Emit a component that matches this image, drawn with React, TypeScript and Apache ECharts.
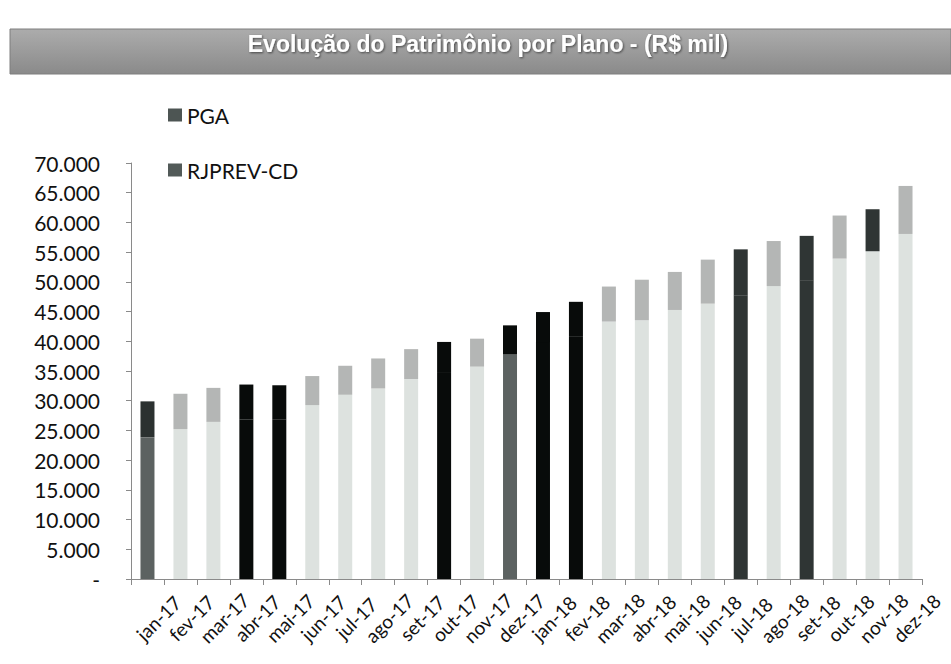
import { useEffect, useRef } from "react";
import * as echarts from "echarts";

const months = [
  "jan-17", "fev-17", "mar-17", "abr-17", "mai-17", "jun-17", "jul-17", "ago-17",
  "set-17", "out-17", "nov-17", "dez-17", "jan-18", "fev-18", "mar-18", "abr-18",
  "mai-18", "jun-18", "jul-18", "ago-18", "set-18", "out-18", "nov-18", "dez-18",
];

// RJPREV-CD (lower segment), R$ mil
const rjprevCd = [
  23830, 25230, 26440, 26830, 26880, 29270, 31000, 32060,
  33630, 34670, 35730, 37800, 39870, 40750, 43320, 43540,
  45270, 46330, 47730, 49290, 50170, 53920, 55150, 58060,
];

// PGA (upper segment), R$ mil
const pga = [
  6060, 5940, 5720, 5890, 5720, 4880, 4880, 5050,
  5050, 5220, 4710, 4880, 5050, 5890, 5890, 6820,
  6400, 7410, 7740, 7580, 7570, 7240, 7070, 8080,
];

const yMax = 70000;
const yStep = 5000;

// tones of the scanned print (style only)
const LIGHT = "#dde2df";
const MID = "#b4b6b5";
const BLACK = "#080b0a";
const DARK = "#2f3534";
const SLATE = "#5c6261";
const CHAR = "#2b3130";

const bottomTone: Record<string, string> = {
  "jan-17": SLATE, "abr-17": BLACK, "mai-17": BLACK, "out-17": BLACK,
  "dez-17": SLATE, "jan-18": BLACK, "fev-18": BLACK, "jul-18": DARK, "set-18": DARK,
};
const topTone: Record<string, string> = {
  "jan-17": CHAR, "abr-17": BLACK, "mai-17": BLACK, "out-17": BLACK,
  "dez-17": BLACK, "jan-18": BLACK, "fev-18": BLACK, "jul-18": DARK, "set-18": DARK,
  "nov-18": DARK,
};

const FONT = "Lato, 'Open Sans', sans-serif";

function fmt(v: number): string {
  if (v === 0) return "-";
  return String(v).replace(/\B(?=(\d{3})+(?!\d))/g, ".");
}

export default function App() {
  const ref = useRef<HTMLDivElement>(null);

  useEffect(() => {
    if (!ref.current) return;
    const chart = echarts.init(ref.current, undefined, { renderer: "svg" });
    chart.setOption({
      animation: false,
      backgroundColor: "#ffffff",
      graphic: [
        {
          type: "rect",
          shape: { x: 10, y: 29, width: 941, height: 45 },
          style: {
            fill: new echarts.graphic.LinearGradient(0, 0, 0, 1, [
              { offset: 0, color: "#acacac" },
              { offset: 0.5, color: "#9b9b9b" },
              { offset: 1, color: "#8a8a8a" },
            ]),
            stroke: "#7f7f7f",
            lineWidth: 1,
          },
          z: 1,
        },
        {
          type: "text",
          x: 488,
          y: 44,
          style: {
            text: "Evolução do Patrimônio por Plano - (R$ mil)",
            fill: "#ffffff",
            font: "bold 23px 'Liberation Sans', Arial, sans-serif",
            align: "center",
            verticalAlign: "middle",
            textShadowColor: "rgba(0,0,0,0.55)",
            textShadowBlur: 2,
            textShadowOffsetX: 1,
            textShadowOffsetY: 1,
          },
          z: 2,
        },
      ],
      legend: {
        orient: "vertical",
        left: 163,
        top: 98,
        itemGap: 31,
        itemWidth: 14,
        itemHeight: 13,
        icon: "rect",
        textStyle: { fontFamily: FONT, fontSize: 21, color: "#111111", lineHeight: 24 },
        data: [
          { name: "PGA", itemStyle: { color: "#4d5553" } },
          { name: "RJPREV-CD", itemStyle: { color: "#525a58" } },
        ],
      },
      grid: {
        left: 131,
        right: 29,
        top: 163,
        bottom: 85,
        containLabel: false,
        outerBoundsMode: "none",
      },
      xAxis: {
        type: "category",
        data: months,
        boundaryGap: true,
        axisLine: { lineStyle: { color: "#8a8a8a", width: 1 } },
        axisTick: { show: true, length: 6, lineStyle: { color: "#8a8a8a" } },
        axisLabel: {
          interval: 0,
          rotate: 45,
          align: "center",
          verticalAlign: "middle",
          padding: [0, 0, 0, 31],
          margin: 50,
          fontFamily: FONT,
          fontSize: 19,
          color: "#111111",
        },
      },
      yAxis: {
        type: "value",
        min: 0,
        max: yMax,
        interval: yStep,
        splitLine: { show: false },
        axisLine: { show: true, lineStyle: { color: "#8a8a8a", width: 1 } },
        axisTick: { show: true, inside: false, length: 5, lineStyle: { color: "#8a8a8a" } },
        axisLabel: {
          margin: 31,
          fontFamily: FONT,
          fontSize: 21,
          color: "#111111",
          formatter: (v: number) => fmt(v),
        },
      },
      series: [
        {
          name: "RJPREV-CD",
          type: "bar",
          stack: "total",
          barWidth: 14,
          itemStyle: { color: LIGHT },
          data: rjprevCd.map((v, i) => ({
            value: v,
            itemStyle: { color: bottomTone[months[i]] || LIGHT },
          })),
        },
        {
          name: "PGA",
          type: "bar",
          stack: "total",
          barWidth: 14,
          itemStyle: { color: MID },
          data: pga.map((v, i) => ({
            value: v,
            itemStyle: { color: topTone[months[i]] || MID },
          })),
        },
      ],
    });
    return () => chart.dispose();
  }, []);

  return (
    <div
      ref={ref}
      style={{ position: "fixed", left: 0, top: 0, width: 951, height: 664 }}
    />
  );
}
